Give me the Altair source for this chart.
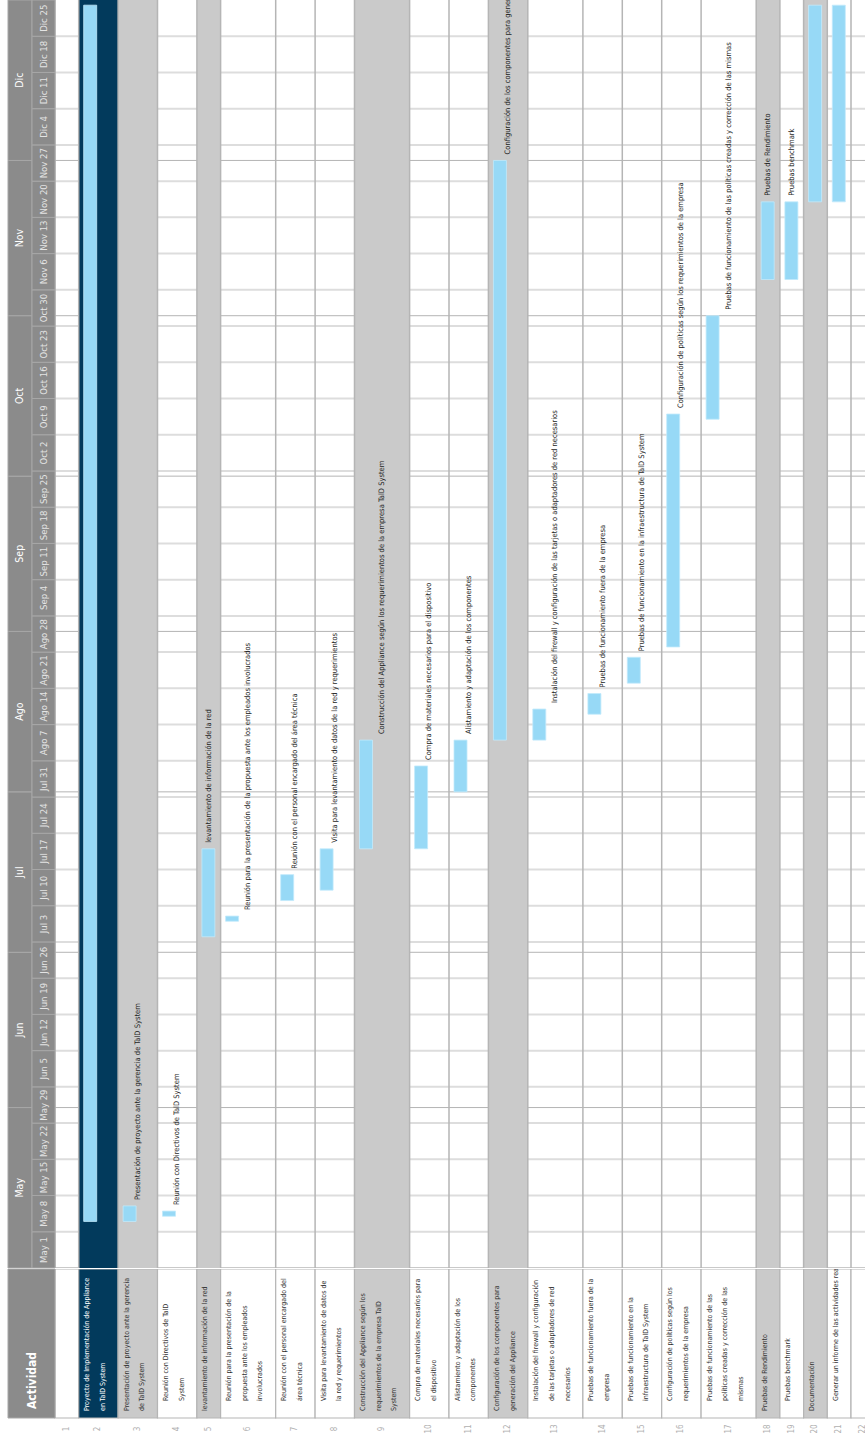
import altair as alt
import pandas as pd

# ---------------- data ----------------
row_labels = [
    [""],
    ["Proyecto de Implementación de Appliance", "en TalD System"],
    ["Presentación de proyecto ante la gerencia", "de TalD System"],
    ["Reunión con Directivos de TalD", "System"],
    ["levantamiento de información de la red"],
    ["Reunión para la presentación de la", "propuesta ante los empleados", "involucrados"],
    ["Reunión con el personal encargado del", "área técnica"],
    ["Visita para levantamiento de datos de", "la red y requerimientos"],
    ["Construcción del Appliance según los", "requerimientos de la empresa TalD", "System"],
    ["Compra de materiales necesarios para", "el dispositivo"],
    ["Alistamiento y adaptación de los", "componentes"],
    ["Configuración de los componentes para", "generación  del Appliance"],
    ["Instalación del firewall y configuración", "de las tarjetas o adaptadores de red", "necesarios"],
    ["Pruebas de funcionamiento fuera de la", "empresa"],
    ["Pruebas de funcionamiento en la", "infraestructura de TalD System"],
    ["Configuración de políticas según los", "requerimientos de la empresa"],
    ["Pruebas de funcionamiento de las", "políticas creadas y corrección de las", "mismas"],
    ["Pruebas de Rendimiento"],
    ["Pruebas benchmark"],
    ["Documentación"],
    ["Generar un informe de las actividades realizadas"],
    [""],
]
row_kind = ["empty", "project", "summary", "task", "summary", "task", "task", "task",
            "summary", "task", "task", "summary", "task", "task", "task", "task", "task",
            "summary", "task", "summary", "task", "empty"]
task_start = [None, "2017-05-10", "2017-05-10", "2017-05-11", "2017-07-04", "2017-07-07",
              "2017-07-11", "2017-07-13", "2017-07-21", "2017-07-21", "2017-08-01",
              "2017-08-11", "2017-08-11", "2017-08-16", "2017-08-22", "2017-08-29",
              "2017-10-12", "2017-11-08", "2017-11-08", "2017-11-23", "2017-11-23", None]
task_end = [None, "2017-12-31", "2017-05-13", "2017-05-12", "2017-07-21", "2017-07-08",
            "2017-07-16", "2017-07-21", "2017-08-11", "2017-08-06", "2017-08-11",
            "2017-12-01", "2017-08-17", "2017-08-20", "2017-08-27", "2017-10-13",
            "2017-11-01", "2017-11-23", "2017-11-23", "2017-12-31", "2017-12-31", None]

week_labels = ["May 1", "May 8", "May 15", "May 22", "May 29", "Jun 5", "Jun 12", "Jun 19",
               "Jun 26", "Jul 3", "Jul 10", "Jul 17", "Jul 24", "Jul 31", "Ago 7", "Ago 14",
               "Ago 21", "Ago 28", "Sep 4", "Sep 11", "Sep 18", "Sep 25", "Oct 2", "Oct 9",
               "Oct 16", "Oct 23", "Oct 30", "Nov 6", "Nov 13", "Nov 20", "Nov 27", "Dic 4",
               "Dic 11", "Dic 18", "Dic 25"]
month_names = ["May", "Jun", "Jul", "Ago", "Sep", "Oct", "Nov", "Dic"]
month_starts = ["2017-05-01", "2017-06-01", "2017-07-01", "2017-08-01", "2017-09-01",
                "2017-10-01", "2017-11-01", "2017-12-01", "2018-01-01"]

# ---------------- style ----------------
FONT = "Liberation Sans Narrow, DejaVu Sans Condensed, Roboto Condensed, Arial Narrow, sans-serif"
NAVY = "#023a5c"
GRAY = "#cacaca"
HEAD = "#8b8b8b"
BAR = "#97d9f6"
LINE = "#b5b5b5"
W, H_TOP, H_BOT = 865, 1268, 168
X0, X1 = -55, 810

# ---------------- tables ----------------
n_lines = [len(l) for l in row_labels]
widths = [8 + 15.7 * n for n in n_lines]
xs0 = []
acc = 0.0
for w in widths:
    xs0.append(acc)
    acc += w
rows = pd.DataFrame({
    "num": [str(i + 1) for i in range(len(row_labels))],
    "x0": xs0,
    "x1": [a + w for a, w in zip(xs0, widths)],
    "kind": row_kind,
    "label": ["\n".join(l) for l in row_labels],
    "task": [" ".join(" ".join(l).split()) for l in row_labels],
    "start": task_start,
    "end": task_end,
})
rows["xc"] = (rows["x0"] + rows["x1"]) / 2
rows["bx0"] = rows["x0"] + 5
rows["bx1"] = rows["x0"] + 18
rows["lx"] = rows["x0"] + 4.5
rows["ly"] = [142 if k in ("project", "summary") else 132 for k in row_kind]
rows["cy0"] = 0
rows["cy1"] = 149
rows["ny"] = 160

tasks = rows.dropna(subset=["start"]).copy()
# labels of bars that end at the top edge of the timeline fall outside the chart
task_labels = tasks[tasks["end"] < "2017-12-31"].copy()
fills = rows[rows["kind"].isin(["project", "summary"])].copy()
bounds = pd.DataFrame({"bx": list(rows["x0"]) + [rows["x1"].iloc[-1]]})

week_starts = [d.strftime("%Y-%m-%d") for d in pd.date_range("2017-05-01", periods=35, freq="7D")]
weeks = pd.DataFrame({"d": week_starts, "lab": week_labels})
weeks["d2"] = [d.strftime("%Y-%m-%d") for d in pd.date_range("2017-05-08", periods=35, freq="7D")]
weeks["hx0"] = -23
weeks["hx1"] = 0
weeks["hxc"] = -11.5
weeks["gx0"] = -47
weeks["gx1"] = X1

months = pd.DataFrame({"m": month_names, "s": month_starts[:-1], "e": month_starts[1:]})
mids = []
for s, e in zip(month_starts[:-1], month_starts[1:]):
    a, b = pd.Timestamp(s), pd.Timestamp(e)
    mids.append((a + (b - a) / 2).strftime("%Y-%m-%dT%H:%M:%SZ"))
months["mid"] = mids
months["hx0"] = -47
months["hx1"] = -23
months["hxc"] = -35
months["gx0"] = 0
months["gx1"] = X1

head = pd.DataFrame({"t": ["Actividad"], "x0": [-47], "x1": [0], "xc": [-23.5],
                     "y0": [0], "y1": [149], "ty": [140]})

# ---------------- scales ----------------
xs = alt.Scale(domain=[X0, X1], nice=False, zero=False)
ys = alt.Scale(type="utc", nice=False,
               domain=[alt.DateTime(year=2017, month=5, date=1, utc=True),
                       alt.DateTime(year=2018, month=1, date=1, utc=True)])
fill_scale = alt.Scale(domain=["project", "summary", "task", "empty"],
                       range=[NAVY, GRAY, "#ffffff", "#ffffff"])

# ---------------- top (gantt body) ----------------
week_grid = alt.Chart(weeks).mark_rule(color="#dddddd", strokeWidth=2, clip=True).encode(
    x=alt.X("gx0:Q", scale=xs, axis=None), x2="gx1:Q",
    y=alt.Y("d:T", scale=ys, axis=None))
month_grid = alt.Chart(months).mark_rule(color="#b4b4b4", strokeWidth=1, clip=True).encode(
    x=alt.X("gx0:Q", scale=xs, axis=None), x2="gx1:Q",
    y=alt.Y("s:T", scale=ys, axis=None))
row_fill = alt.Chart(fills).mark_rect(clip=True).encode(
    x=alt.X("x0:Q", scale=xs, axis=None), x2="x1:Q",
    color=alt.Color("kind:N", scale=fill_scale, legend=None))
seps = alt.Chart(bounds).mark_rule(color=LINE, strokeWidth=1.5, clip=True).encode(
    x=alt.X("bx:Q", scale=xs, axis=None))
bars = alt.Chart(tasks).mark_rect(color=BAR, stroke="#c2eafb", strokeWidth=0.8, clip=True).encode(
    x=alt.X("bx0:Q", scale=xs, axis=None), x2="bx1:Q",
    y=alt.Y("start:T", scale=ys, axis=None), y2="end:T")
bar_text = alt.Chart(task_labels).mark_text(angle=270, align="left", baseline="middle", dx=6,
                                            fontSize=7.5, font=FONT, color="#1e1e1e", clip=True).encode(
    x=alt.X("xc:Q", scale=xs, axis=None),
    y=alt.Y("end:T", scale=ys, axis=None),
    text="task:N")
month_cells = alt.Chart(months).mark_rect(color=HEAD, stroke="#a7a7a7", strokeWidth=1, clip=True).encode(
    x=alt.X("hx0:Q", scale=xs, axis=None), x2="hx1:Q",
    y=alt.Y("s:T", scale=ys, axis=None), y2="e:T")
week_cells = alt.Chart(weeks).mark_rect(color=HEAD, stroke="#a7a7a7", strokeWidth=1, clip=True).encode(
    x=alt.X("hx0:Q", scale=xs, axis=None), x2="hx1:Q",
    y=alt.Y("d:T", scale=ys, axis=None), y2="d2:T")
month_text = alt.Chart(months).mark_text(angle=270, align="center", baseline="middle",
                                         fontSize=10.5, font=FONT, color="#ffffff", clip=True).encode(
    x=alt.X("hxc:Q", scale=xs, axis=None),
    y=alt.Y("mid:T", scale=ys, axis=None),
    text="m:N")
week_text = alt.Chart(weeks).mark_text(angle=270, align="center", baseline="middle", dx=18,
                                       fontSize=9.5, font=FONT, color="#e4e4e4", clip=True).encode(
    x=alt.X("hxc:Q", scale=xs, axis=None),
    y=alt.Y("d:T", scale=ys, axis=None),
    text="lab:N")

top = alt.layer(week_grid, month_grid, row_fill, seps, bars, bar_text,
                month_cells, week_cells, month_text, week_text).properties(width=W, height=H_TOP)

# ---------------- bottom (activity table) ----------------
ybs = alt.Scale(domain=[0, H_BOT], nice=False, zero=False, reverse=True)
cells = alt.Chart(rows).mark_rect(stroke=LINE, strokeWidth=1.2, clip=True).encode(
    x=alt.X("x0:Q", scale=xs, axis=None), x2="x1:Q",
    y=alt.Y("cy0:Q", scale=ybs, axis=None), y2="cy1:Q",
    color=alt.Color("kind:N", scale=fill_scale, legend=None))
head_cell = alt.Chart(head).mark_rect(color=HEAD, stroke="#a7a7a7", strokeWidth=1).encode(
    x=alt.X("x0:Q", scale=xs, axis=None), x2="x1:Q",
    y=alt.Y("y0:Q", scale=ybs, axis=None), y2="y1:Q")
head_text = alt.Chart(head).mark_text(angle=270, align="left", baseline="middle", fontSize=12,
                                      fontWeight="bold", font=FONT, color="#ffffff").encode(
    x=alt.X("xc:Q", scale=xs, axis=None),
    y=alt.Y("ty:Q", scale=ybs, axis=None),
    text="t:N")
cell_text = alt.Chart(rows).mark_text(angle=270, align="left", baseline="top", lineBreak="\n",
                                      lineHeight=15.7, fontSize=7, font=FONT, limit=137,
                                      ellipsis=" ", clip=True).encode(
    x=alt.X("lx:Q", scale=xs, axis=None),
    y=alt.Y("ly:Q", scale=ybs, axis=None),
    text="label:N",
    color=alt.condition(alt.datum.kind == "project", alt.value("#ffffff"), alt.value("#333333")))
num_text = alt.Chart(rows).mark_text(angle=270, align="center", baseline="middle", fontSize=8,
                                     font=FONT, color="#b0b0b0", clip=True).encode(
    x=alt.X("xc:Q", scale=xs, axis=None),
    y=alt.Y("ny:Q", scale=ybs, axis=None),
    text="num:N")

bottom = alt.layer(cells, head_cell, head_text, cell_text, num_text).properties(width=W, height=H_BOT)

chart = alt.vconcat(top, bottom, spacing=0).properties(padding=0).configure_view(strokeWidth=0)
chart.save("out.html", embed_options={"renderer": "svg", "actions": False})
